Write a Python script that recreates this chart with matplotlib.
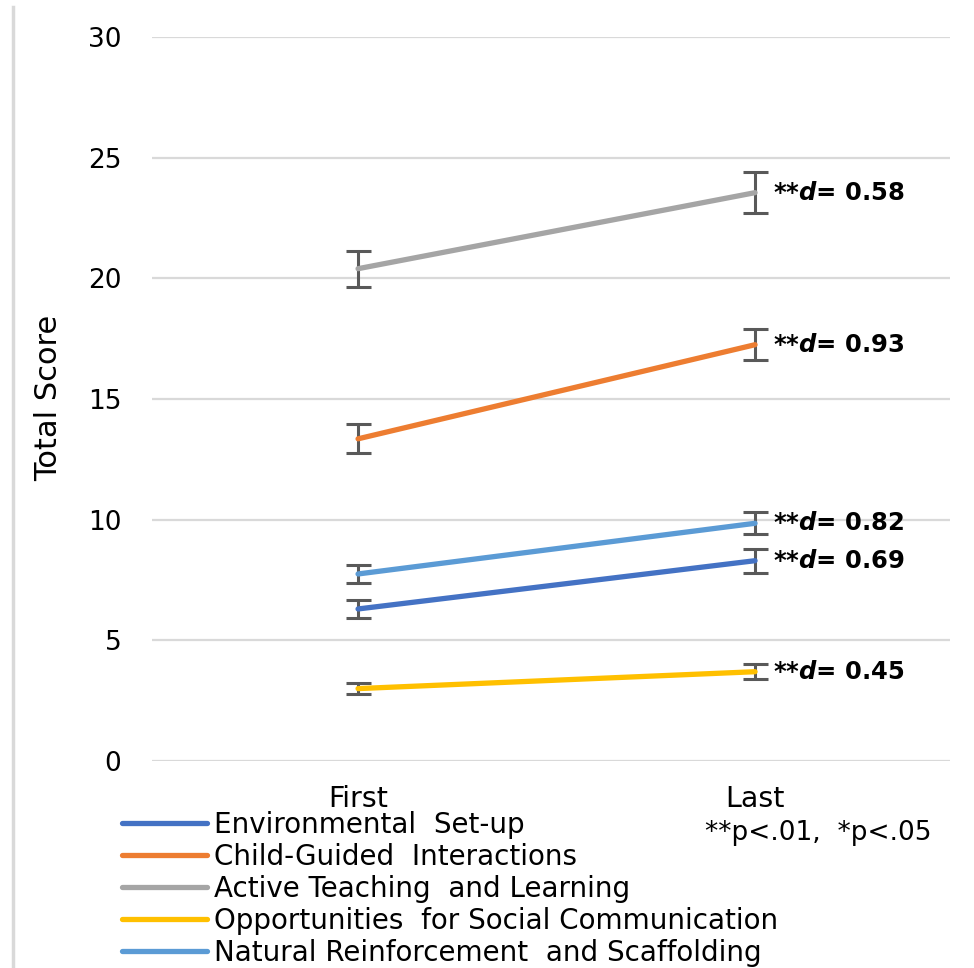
import matplotlib
matplotlib.use("Agg")
import matplotlib.pyplot as plt
from matplotlib.lines import Line2D

plt.rcParams['font.family'] = ['DejaVu Sans']
plt.rcParams['mathtext.fontset'] = 'dejavusans'

# scores at the first and last observation
timepoints = ["First", "Last"]
series_names = [
    "Environmental  Set-up",
    "Child-Guided  Interactions",
    "Active Teaching  and Learning",
    "Opportunities  for Social Communication",
    "Natural Reinforcement  and Scaffolding",
]
env_setup = [6.3, 8.3]
child_guided = [13.35, 17.25]
active_teaching = [20.4, 23.55]
social_comm = [3.0, 3.7]
reinforcement = [7.75, 9.85]

env_err = [0.38, 0.5]
child_err = [0.6, 0.65]
active_err = [0.75, 0.85]
social_err = [0.24, 0.3]
reinf_err = [0.38, 0.45]

effect_sizes = ["0.69", "0.93", "0.58", "0.45", "0.82"]
colors = ["#4472C4", "#ED7D31", "#A5A5A5", "#FFC000", "#5B9BD5"]

values = [env_setup, child_guided, active_teaching, social_comm, reinforcement]
errors = [env_err, child_err, active_err, social_err, reinf_err]

fig = plt.figure(figsize=(9.74, 9.68), dpi=100)
ax = fig.add_axes([152/974, 1-761/968, 798/974, 724/968])

x = [0, 1]
handles = []
for vals, err, col, d in zip(values, errors, colors, effect_sizes):
    ax.errorbar(x, vals, yerr=err, fmt='none', ecolor='#595959',
                elinewidth=2.2, capsize=9, capthick=2.2, zorder=2)
    ln, = ax.plot(x, vals, color=col, lw=3.8, solid_capstyle='round', zorder=3)
    handles.append(ln)
    ax.annotate(r'**$\mathbfit{d}$= ' + d, xy=(1, vals[1]), xytext=(13, 0),
                textcoords='offset points', va='center', ha='left',
                fontsize=17.5, fontweight='bold')

ax.set_xlim(-0.519, 1.491)
ax.set_ylim(0, 30)
ax.set_yticks(range(0, 31, 5))
ax.set_xticks(x)
ax.set_xticklabels(timepoints)
ax.tick_params(axis='both', length=0, labelsize=19)
ax.tick_params(axis='y', pad=22)
ax.tick_params(axis='x', pad=17, labelsize=20.5)
ax.grid(axis='y', color='#D9D9D9', lw=1.6)
ax.set_axisbelow(True)
for s in ax.spines.values():
    s.set_visible(False)

ax.set_ylabel("Total Score", fontsize=22)
ax.yaxis.set_label_coords(-0.1115, 0.501)

leg = ax.legend(handles, series_names, loc='upper left',
                bbox_to_anchor=(122/974, 1-811/968), bbox_transform=fig.transFigure,
                frameon=False, fontsize=20, borderpad=0, borderaxespad=0,
                handlelength=3.05, handletextpad=0.25, labelspacing=0.14)

fig.text(705/974, 1-833/968, "**p<.01,  *p<.05", fontsize=19, va='center', ha='left')

# thin border on the left edge
fig.add_artist(Line2D([13/974, 13/974], [0, 1-7/968], color='#D9D9D9', lw=2.5))

fig.savefig("out.png", dpi=100)
